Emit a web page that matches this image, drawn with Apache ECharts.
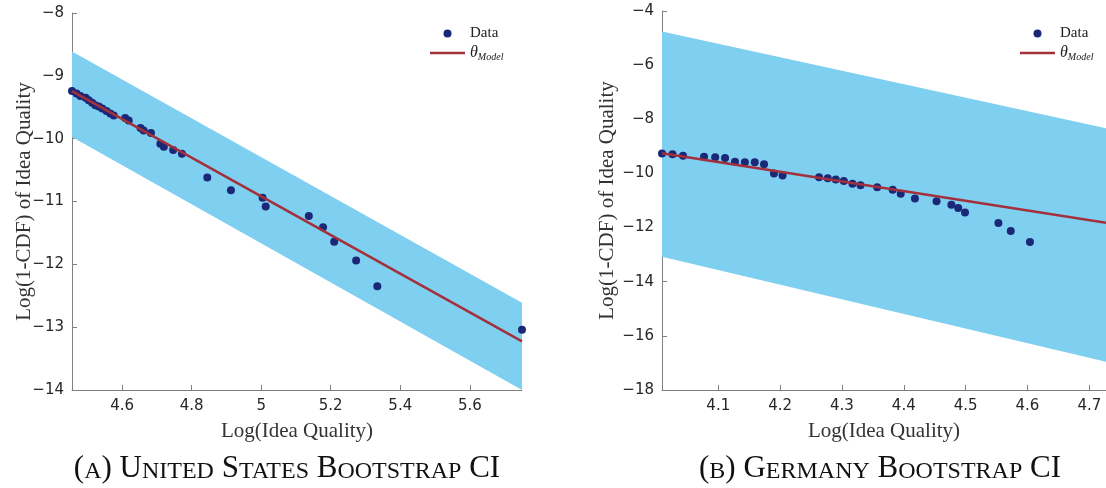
<!DOCTYPE html>
<html>
<head>
<meta charset="utf-8">
<script src="https://cdn.jsdelivr.net/npm/echarts@6/dist/echarts.min.js"></script>
<style>
  html, body { margin: 0; padding: 0; background: #fff; }
  #chart { width: 1106px; height: 488px; }
</style>
</head>
<body>
<div id="chart"></div>
<script>
// United States panel
const usX = [4.456, 4.469, 4.480, 4.495, 4.504, 4.514, 4.523, 4.533, 4.543, 4.555, 4.566, 4.576,
  4.609, 4.619, 4.653, 4.662, 4.683, 4.710, 4.720, 4.747, 4.772, 4.845, 4.913, 5.004, 5.013,
  5.137, 5.178, 5.210, 5.273, 5.334, 5.750];
const usY = [-9.24, -9.28, -9.32, -9.35, -9.39, -9.43, -9.47, -9.49, -9.52, -9.56, -9.60, -9.63,
  -9.67, -9.71, -9.83, -9.87, -9.91, -10.08, -10.13, -10.18, -10.24, -10.62, -10.82, -10.94, -11.08,
  -11.23, -11.41, -11.64, -11.94, -12.35, -13.04];
const usFitX = [4.456, 5.75];
const usFitY = [-9.243, -13.227];
const usBandX = [4.456, 5.75];
const usBandHi = [-8.613, -12.613];
const usBandLo = [-9.973, -14.0];
const usXTicks = [4.6, 4.8, 5, 5.2, 5.4, 5.6];

// Germany panel
const deX = [4.009, 4.026, 4.043, 4.077, 4.095, 4.111, 4.127, 4.143, 4.159, 4.174, 4.190, 4.204,
  4.263, 4.277, 4.290, 4.303, 4.317, 4.330, 4.357, 4.382, 4.395, 4.418, 4.453, 4.477, 4.488,
  4.499, 4.553, 4.573, 4.604];
const deY = [-9.26, -9.29, -9.35, -9.38, -9.40, -9.43, -9.57, -9.59, -9.59, -9.66, -10.00, -10.08,
  -10.14, -10.18, -10.22, -10.28, -10.38, -10.44, -10.51, -10.60, -10.75, -10.93, -11.03, -11.16, -11.28,
  -11.44, -11.83, -12.13, -12.53];
const deFitX = [4.009, 4.727];
const deFitY = [-9.257, -11.82];
const deBandX = [4.009, 4.727];
const deBandHi = [-4.76, -8.33];
const deBandLo = [-13.08, -16.955];
const deXTicks = [4.1, 4.2, 4.3, 4.4, 4.5, 4.6, 4.7];

const bandColor = '#7fcff0';
const dotColor = '#1b2878';
const lineColor = '#a3303b';
const axisGray = '#808080';
const tickText = '#262626';
const serif = '"Liberation Serif", "DejaVu Serif", serif';

const minus = v => String(v).replace('-', '\u2212');

const makeXAxis = (idx, min, max, ticks) => ({
  type: 'value', gridIndex: idx, min: min, max: max,
  name: 'Log(Idea Quality)', nameLocation: 'middle', nameGap: 31, nameMoveOverlap: false,
  nameTextStyle: { fontFamily: serif, fontSize: 21, color: '#333' },
  axisLine: { lineStyle: { color: axisGray } },
  axisTick: { inside: true, length: 5, lineStyle: { color: axisGray }, customValues: ticks },
  axisLabel: { color: tickText, fontSize: 15, fontFamily: 'DejaVu Sans', margin: 9, customValues: ticks },
  splitLine: { show: false }
});

const makeYAxis = (idx, min, max, step, gap) => ({
  type: 'value', gridIndex: idx, min: min, max: max, interval: step,
  name: 'Log(1-CDF) of Idea Quality', nameLocation: 'middle', nameGap: gap, nameMoveOverlap: false,
  nameTextStyle: { fontFamily: serif, fontSize: 21, color: '#333' },
  axisLine: { show: true, lineStyle: { color: axisGray } },
  axisTick: { show: true, inside: true, length: 5, lineStyle: { color: axisGray } },
  axisLabel: { color: tickText, fontSize: 15, fontFamily: 'DejaVu Sans', margin: 8, formatter: minus },
  splitLine: { show: false }
});

const bandSeries = (idx, bx, lo, hi) => ({
  type: 'custom', xAxisIndex: idx, yAxisIndex: idx, silent: true, z: 1,
  data: bx.map((x, i) => [x, lo[i], hi[i]]),
  encode: { x: 0, y: [1, 2] },
  renderItem: (params, api) => {
    if (params.dataIndex !== 0) return;
    const top = hi.map((v, i) => api.coord([bx[i], v]));
    const bot = lo.map((v, i) => api.coord([bx[i], v])).reverse();
    return { type: 'polygon', shape: { points: top.concat(bot) }, style: { fill: bandColor } };
  }
});

const legendFor = (left) => ({
  left: left, top: 26, orient: 'vertical', itemWidth: 35, itemHeight: 8, itemGap: 4, padding: 0,
  data: [{ name: 'Data', icon: 'circle' }, { name: 'Model', icon: 'path://M0,0L35,0L35,2.5L0,2.5Z' }],
  formatter: name => name === 'Model' ? '{t|\u03b8}{s|Model}' : name,
  textStyle: {
    fontFamily: serif, fontSize: 15, color: '#222', lineHeight: 14,
    rich: {
      t: { fontFamily: serif, fontStyle: 'italic', fontSize: 16, color: '#222' },
      s: { fontFamily: serif, fontStyle: 'italic', fontSize: 10, color: '#222', padding: [8, 0, 0, 0] }
    }
  }
});

const caption = (x, parts) => ({
  type: 'text', x: x, y: 469,
  style: {
    text: parts.map(p => '{' + (p[1] ? 'b' : 's') + '|' + p[0] + '}').join(''),
    align: 'center', verticalAlign: 'middle',
    rich: {
      b: { fontFamily: serif, fontSize: 31, fill: '#111', verticalAlign: 'bottom' },
      s: { fontFamily: serif, fontSize: 24, fill: '#111', verticalAlign: 'bottom', padding: [0, 0, 1, 0] }
    }
  }
});

const chart = echarts.init(document.getElementById('chart'));
chart.setOption({
  animation: false,
  grid: [
    { left: 72, right: 584, top: 13, bottom: 98 },
    { left: 662, right: 0, top: 11, bottom: 98 }
  ],
  xAxis: [makeXAxis(0, 4.456, 5.75, usXTicks), makeXAxis(1, 4.009, 4.727, deXTicks)],
  yAxis: [makeYAxis(0, -14, -8, 1, 37), makeYAxis(1, -18, -4, 2, 44)],
  legend: [legendFor(430), legendFor(1020)],
  series: [
    bandSeries(0, usBandX, usBandLo, usBandHi),
    { name: 'Data', type: 'scatter', xAxisIndex: 0, yAxisIndex: 0, clip: false, z: 3,
      symbolSize: 8, itemStyle: { color: dotColor, opacity: 1 },
      data: usX.map((x, i) => [x, usY[i]]) },
    { name: 'Model', type: 'line', xAxisIndex: 0, yAxisIndex: 0, z: 4, symbol: 'none',
      lineStyle: { color: lineColor, width: 2.5 }, itemStyle: { color: lineColor },
      data: usFitX.map((x, i) => [x, usFitY[i]]) },
    bandSeries(1, deBandX, deBandLo, deBandHi),
    { name: 'Data', type: 'scatter', xAxisIndex: 1, yAxisIndex: 1, clip: false, z: 3,
      symbolSize: 8, itemStyle: { color: dotColor, opacity: 1 },
      data: deX.map((x, i) => [x, deY[i]]) },
    { name: 'Model', type: 'line', xAxisIndex: 1, yAxisIndex: 1, z: 4, symbol: 'none',
      lineStyle: { color: lineColor, width: 2.5 }, itemStyle: { color: lineColor },
      data: deFitX.map((x, i) => [x, deFitY[i]]) }
  ],
  graphic: [
    caption(287, [['(', 1], ['A', 0], [') U', 1], ['NITED', 0], [' S', 1], ['TATES', 0], [' B', 1], ['OOTSTRAP', 0], [' CI', 1]]),
    caption(880, [['(', 1], ['B', 0], [') G', 1], ['ERMANY', 0], [' B', 1], ['OOTSTRAP', 0], [' CI', 1]])
  ]
});
</script>
</body>
</html>
